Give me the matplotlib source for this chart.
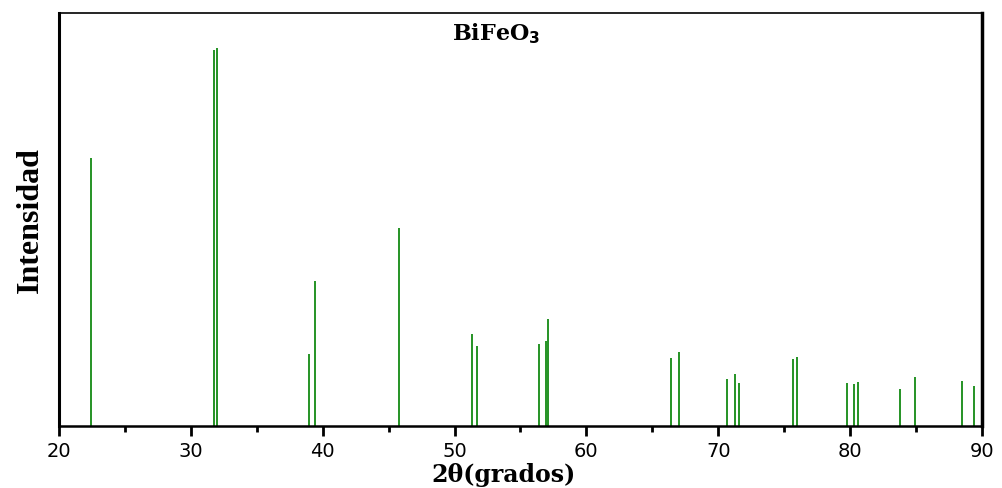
import matplotlib
matplotlib.use('Agg')
import matplotlib.pyplot as plt
from matplotlib.ticker import MultipleLocator

two_theta = [22.43, 31.75, 31.98, 38.95, 39.40, 45.78, 51.30, 51.70,
             56.40, 56.90, 57.07, 66.40, 67.00, 70.70, 71.30, 71.60,
             75.65, 76.00, 79.74, 80.27, 80.60, 83.80, 84.90, 88.50, 89.40]
intensity = [70.9, 99.5, 100.0, 19.0, 38.4, 52.4, 24.3, 21.2,
             21.7, 22.5, 28.3, 18.0, 19.6, 12.4, 13.8, 11.4,
             17.7, 18.3, 11.4, 11.1, 11.6, 9.8, 13.0, 11.9, 10.6]

fig = plt.figure(figsize=(10.03, 4.89), dpi=100)
ax = fig.add_axes([0.0588, 0.1268, 0.9202, 0.8446])

ax.vlines(two_theta, 0, intensity, colors='#008000', linewidth=1.2)

ax.set_xlim(20, 90)
ax.set_ylim(0, 109.3)
ax.xaxis.set_major_locator(MultipleLocator(10))
ax.xaxis.set_minor_locator(MultipleLocator(5))
ax.set_yticks([])
ax.tick_params(axis='x', which='major', direction='out', length=7, width=2,
               labelsize=14, pad=4)
ax.tick_params(axis='x', which='minor', direction='out', length=4, width=2)

ax.spines['left'].set_linewidth(2.2)
ax.spines['right'].set_linewidth(2.5)
ax.spines['bottom'].set_linewidth(1.8)
ax.spines['top'].set_linewidth(1.2)

ax.set_xlabel('2θ(grados)', fontsize=17, fontweight='bold',
              family='DejaVu Serif')
ax.xaxis.set_label_coords(0.482, -0.088)
ax.set_ylabel('Intensidad', fontsize=23, fontweight='bold',
              family='Liberation Serif', labelpad=10)
ax.text(0.474, 0.952, r'BiFeO$_\mathbf{3}$', transform=ax.transAxes,
        ha='center', va='center', fontsize=16, fontweight='bold',
        family='DejaVu Serif')

fig.savefig('out.png', dpi=100)
